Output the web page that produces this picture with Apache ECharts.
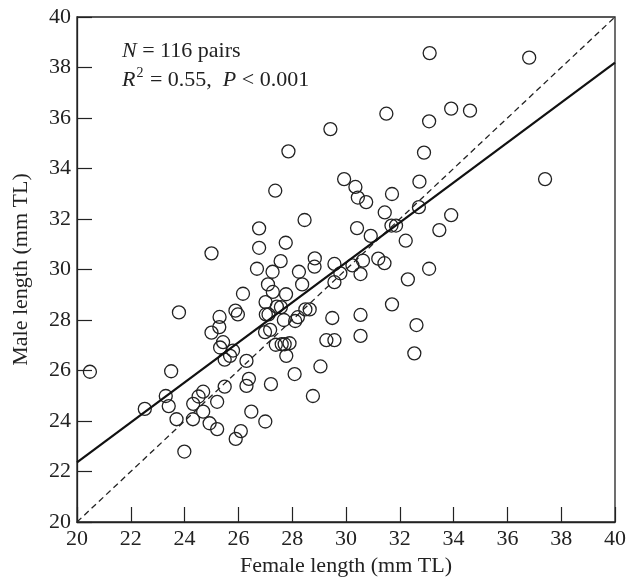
<!DOCTYPE html>
<html>
<head>
<meta charset="utf-8">
<script src="https://cdn.jsdelivr.net/npm/echarts@6/dist/echarts.min.js"></script>
<style>
html,body{margin:0;padding:0;background:#fff;}
#chart{width:630px;height:583px;}
</style>
</head>
<body>
<div id="chart"></div>
<script>
// Female length (x) and male length (y), mm TL
const femaleLength = [
  29.42, 27.86, 29.93, 27.37, 28.46, 26.77, 26.77, 27.76, 25.0, 27.57,
  28.84, 29.57, 26.69, 27.27, 28.25, 28.83, 33.11, 36.81, 31.50, 33.91,
  34.61, 33.09, 32.90, 37.40, 30.35, 30.44, 30.75, 31.71, 32.73, 31.44,
  32.71, 33.91, 33.47, 30.41, 30.92, 31.69, 31.86, 32.22, 30.24, 30.63,
  31.20, 31.43, 33.09, 29.79, 29.57, 28.37, 27.10, 27.28, 26.17, 27.77,
  27.01, 27.58, 28.49, 28.65, 25.89, 25.98, 23.79, 25.30, 27.02, 27.12,
  28.21, 28.11, 27.69, 29.49, 25.29, 25.0, 26.99, 27.18, 25.43, 25.32,
  25.80, 25.69, 25.49, 26.30, 27.39, 27.61, 27.72, 27.90, 27.78, 29.27,
  29.57, 20.48, 23.50, 22.52, 23.30, 23.41, 23.70, 23.99, 24.32, 24.52,
  24.69, 24.69, 24.31, 24.93, 25.21, 25.21, 25.49, 26.30, 26.39, 25.90,
  26.09, 26.48, 27.00, 27.21, 28.09, 28.77, 29.05, 30.54, 32.30, 31.71,
  30.54, 32.62, 30.54, 32.54, 27.43
];
const maleLength = [
  35.56, 34.68, 33.58, 33.12, 31.96, 31.63, 30.86, 31.06, 30.64, 30.33,
  30.44, 30.22, 30.03, 29.91, 29.91, 30.11, 38.57, 38.39, 36.17, 36.37,
  36.29, 35.87, 34.63, 33.58, 33.27, 32.85, 32.67, 32.99, 33.48, 32.26,
  32.47, 32.15, 31.56, 31.64, 31.33, 31.74, 31.74, 31.14, 30.16, 30.35,
  30.43, 30.25, 30.03, 29.85, 29.50, 29.41, 29.41, 29.11, 29.04, 29.02,
  28.71, 28.51, 28.42, 28.42, 28.37, 28.22, 28.30, 28.12, 28.22, 28.22,
  28.11, 27.96, 28.00, 28.08, 27.72, 27.50, 27.52, 27.61, 27.12, 26.91,
  26.79, 26.58, 26.43, 26.38, 27.02, 27.04, 27.04, 27.08, 26.58, 27.20,
  27.20, 25.95, 25.97, 24.48, 24.99, 24.59, 24.07, 22.79, 24.68, 24.97,
  25.16, 24.37, 24.07, 23.91, 24.76, 23.68, 25.36, 25.39, 25.67, 23.29,
  23.60, 24.37, 23.98, 25.46, 25.86, 24.99, 26.16, 29.82, 29.61, 28.62,
  28.20, 27.80, 27.37, 26.68, 28.53
];
// Regression line and 1:1 line end points (data units)
const fitX = [20, 40];
const fitY = [22.36, 38.19];
const identityX = [20, 40];
const identityY = [20, 40];
const xTicks = [20, 22, 24, 26, 28, 30, 32, 34, 36, 38, 40];
const yTicks = [20, 22, 24, 26, 28, 30, 32, 34, 36, 38, 40];

const FONT = 'Liberation Serif';
const INK = '#222';

const points = femaleLength.map((v, i) => [v, maleLength[i]]);
const fitLine = fitX.map((v, i) => [v, fitY[i]]);
const idLine = identityX.map((v, i) => [v, identityY[i]]);

const chart = echarts.init(document.getElementById('chart'), null, {renderer: 'canvas'});
chart.setOption({
  animation: false,
  backgroundColor: '#fff',
  title: {
    left: 117, top: 32,
    text: '{i|N}{n| = 116 pairs}\n{i|R}{sup|2}{n| = 0.55,  }{i|P}{n| < 0.001}',
    textStyle: {
      fontFamily: FONT, fontSize: 22, fontWeight: 'normal', color: INK, lineHeight: 29,
      rich: {
        i: {fontFamily: FONT, fontSize: 22, fontStyle: 'italic', color: INK, lineHeight: 29},
        n: {fontFamily: FONT, fontSize: 22, color: INK, lineHeight: 29},
        sup: {fontFamily: FONT, fontSize: 14, color: INK, lineHeight: 29, verticalAlign: 'top', padding: [0, 1, 8, 1]}
      }
    }
  },
  grid: {left: 77, right: 15, top: 17, bottom: 61, show: true, borderColor: INK, borderWidth: 1.3, backgroundColor: 'transparent'},
  xAxis: {
    type: 'value', min: xTicks[0], max: xTicks[xTicks.length - 1], interval: 2,
    name: 'Female length (mm TL)', nameLocation: 'middle', nameGap: 33,
    nameTextStyle: {fontFamily: FONT, fontSize: 22, color: INK},
    axisLine: {show: true, lineStyle: {color: INK, width: 1.3}},
    axisTick: {show: true, inside: true, length: 15, lineStyle: {color: INK, width: 1.2}},
    axisLabel: {fontFamily: FONT, fontSize: 22, color: INK, margin: 6},
    splitLine: {show: false}
  },
  yAxis: {
    type: 'value', min: yTicks[0], max: yTicks[yTicks.length - 1], interval: 2,
    name: 'Male length (mm TL)', nameLocation: 'middle', nameGap: 45,
    nameTextStyle: {fontFamily: FONT, fontSize: 22, color: INK},
    axisLine: {show: true, lineStyle: {color: INK, width: 1.3}},
    axisTick: {show: true, inside: true, length: 15, lineStyle: {color: INK, width: 1.2}},
    axisLabel: {fontFamily: FONT, fontSize: 22, color: INK, margin: 6},
    splitLine: {show: false}
  },
  series: [
    {
      type: 'line', data: idLine, symbol: 'none', silent: true,
      lineStyle: {color: INK, width: 1.3, type: [6, 4]}
    },
    {
      type: 'line', data: fitLine, symbol: 'none', silent: true,
      lineStyle: {color: '#111', width: 2.2}
    },
    {
      type: 'scatter', data: points, symbol: 'circle', symbolSize: 13,
      itemStyle: {color: 'rgba(255,255,255,0)', borderColor: INK, borderWidth: 1.3, opacity: 1}
    }
  ]
});
</script>
</body>
</html>
